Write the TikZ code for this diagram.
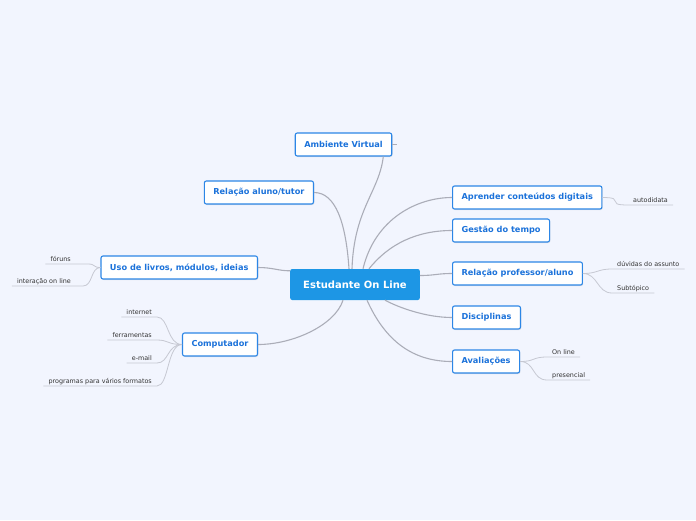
\documentclass[tikz,border=0pt]{standalone}
\usepackage{fontspec}
\setsansfont{DejaVu Sans}
\usepackage{tikz}
\usetikzlibrary{shadows}
\definecolor{pagebg}{HTML}{F2F5FE}
\definecolor{hubblue}{HTML}{1D96E5}
\definecolor{topicblue}{HTML}{2C86E6}
\definecolor{topicink}{HTML}{1B72DA}
\definecolor{linkgray}{HTML}{ABADB8}
\definecolor{leafgray}{HTML}{C6C8D2}
\definecolor{leafink}{HTML}{333333}

\begin{document}
\begin{tikzpicture}[x=1pt,y=-1pt,font=\sffamily,
  hub/.style={fill=hubblue,rounded corners=2pt,text=white,
    font=\fontsize{10}{12}\selectfont\sffamily\bfseries,
    minimum height=31pt,inner xsep=13pt},
  topic/.style={fill=white,draw=topicblue,line width=1.1pt,rounded corners=2pt,
    text=topicink,font=\fontsize{8.2}{10}\selectfont\sffamily\bfseries,
    minimum height=23pt,inner xsep=9pt,
    drop shadow={shadow xshift=0.8pt,shadow yshift=-1pt,opacity=0.2}},
  leaf/.style={text=leafink,font=\fontsize{6.4}{8}\selectfont\sffamily,
    inner xsep=5pt,inner ysep=2pt,text height=4.8pt,text depth=0.5pt},
  link/.style={draw=linkgray,line width=1.1pt},
  twig/.style={draw=leafgray,line width=0.8pt}]
  \fill[pagebg] (0,0) rectangle (696,520);

  % central topic and main branches
  \node[hub] (hub) at (355,284.5) {Estudante On Line};
  \node[topic] (av) at (343.5,144.5) {Ambiente Virtual};
  \node[topic,anchor=east] (rat) at (314,192.5) {Relação aluno/tutor};
  \node[topic,anchor=east] (uso) at (258,267.5) {Uso de livros, módulos, ideias};
  \node[topic,anchor=east] (comp) at (258,344.5) {Computador};
  \node[topic,anchor=west] (apr) at (452,197.5) {Aprender conteúdos digitais};
  \node[topic,anchor=west] (ges) at (452,230.5) {Gestão do tempo};
  \node[topic,anchor=west] (rpa) at (452,273.5) {Relação professor/aluno};
  \node[topic,anchor=west] (dis) at (452,317.5) {Disciplinas};
  \node[topic,anchor=west] (ava) at (452,361.5) {Avaliações};

  % subtopics
  \node[leaf,anchor=south west] (autod) at (628,205) {autodidata};
  \node[leaf,anchor=south west] (duv) at (612,269) {dúvidas do assunto};
  \node[leaf,anchor=south west] (subt) at (612,293) {Subtópico};
  \node[leaf,anchor=south west] (onl) at (547,357) {On line};
  \node[leaf,anchor=south west] (pres) at (547,380) {presencial};
  \node[leaf,anchor=south east] (foruns) at (76,264) {fóruns};
  \node[leaf,anchor=south east] (inter) at (76,286) {interação on line};
  \node[leaf,anchor=south east] (inet) at (157,317) {internet};
  \node[leaf,anchor=south east] (ferr) at (157,340) {ferramentas};
  \node[leaf,anchor=south east] (email) at (157,363) {e-mail};
  \node[leaf,anchor=south east] (prog) at (157,386) {programas para vários formatos};

  % links
  \draw[link] ([xshift=-3pt]hub.north) .. controls +(2,-60) and +(-4,35)
    .. ([xshift=-9pt]av.south east);
  \draw[link] (av.east) -- +(5,0);
  \draw[link] ([xshift=-6pt]hub.north) .. controls +(-3,-45) and +(22,0) .. (rat.east);
  \draw[link] (uso.east) .. controls +(15,0) and +(-12,0) .. ([yshift=-2pt]hub.north west);
  \draw[link] ([xshift=-12pt]hub.south) .. controls +(-8,25) and +(35,0) .. (comp.east);
  \draw[link] ([xshift=8pt]hub.north) .. controls +(12,-50) and +(-35,0) .. (apr.west);
  \draw[link] ([xshift=14pt]hub.north) .. controls +(20,-25) and +(-35,0) .. (ges.west);
  \draw[link] ([yshift=9pt]hub.east) .. controls +(15,0) and +(-15,0) .. (rpa.west);
  \draw[link] ([xshift=30pt]hub.south) .. controls +(15,8) and +(-25,0) .. (dis.west);
  \draw[link] ([xshift=12pt]hub.south) .. controls +(18,40) and +(-40,0) .. (ava.west);

  \draw[twig] (apr.east) .. controls +(25,0) and +(-25,0) .. (autod.south west)
    -- (autod.south east);
  \draw[twig] (rpa.east) .. controls +(15,0) and +(-15,0) .. (duv.south west)
    -- (duv.south east);
  \draw[twig] (rpa.east) .. controls +(15,0) and +(-15,0) .. (subt.south west)
    -- (subt.south east);
  \draw[twig] (ava.east) .. controls +(15,0) and +(-15,0) .. (onl.south west)
    -- (onl.south east);
  \draw[twig] (ava.east) .. controls +(15,0) and +(-15,0) .. (pres.south west)
    -- (pres.south east);
  \draw[twig] (uso.west) .. controls +(-8,0) and +(8,0) .. ([xshift=12pt]foruns.south east)
    -- (foruns.south west);
  \draw[twig] (uso.west) .. controls +(-10,0) and +(10,0) .. ([xshift=7pt]inter.south east)
    -- (inter.south west);
  \draw[twig] (comp.west) .. controls +(-15,0) and +(12,0) .. (inet.south east)
    -- (inet.south west);
  \draw[twig] (comp.west) .. controls +(-15,0) and +(12,0) .. (ferr.south east)
    -- (ferr.south west);
  \draw[twig] (comp.west) .. controls +(-15,0) and +(12,0) .. (email.south east)
    -- (email.south west);
  \draw[twig] (comp.west) .. controls +(-15,0) and +(12,0) .. (prog.south east)
    -- (prog.south west);
\end{tikzpicture}
\end{document}
